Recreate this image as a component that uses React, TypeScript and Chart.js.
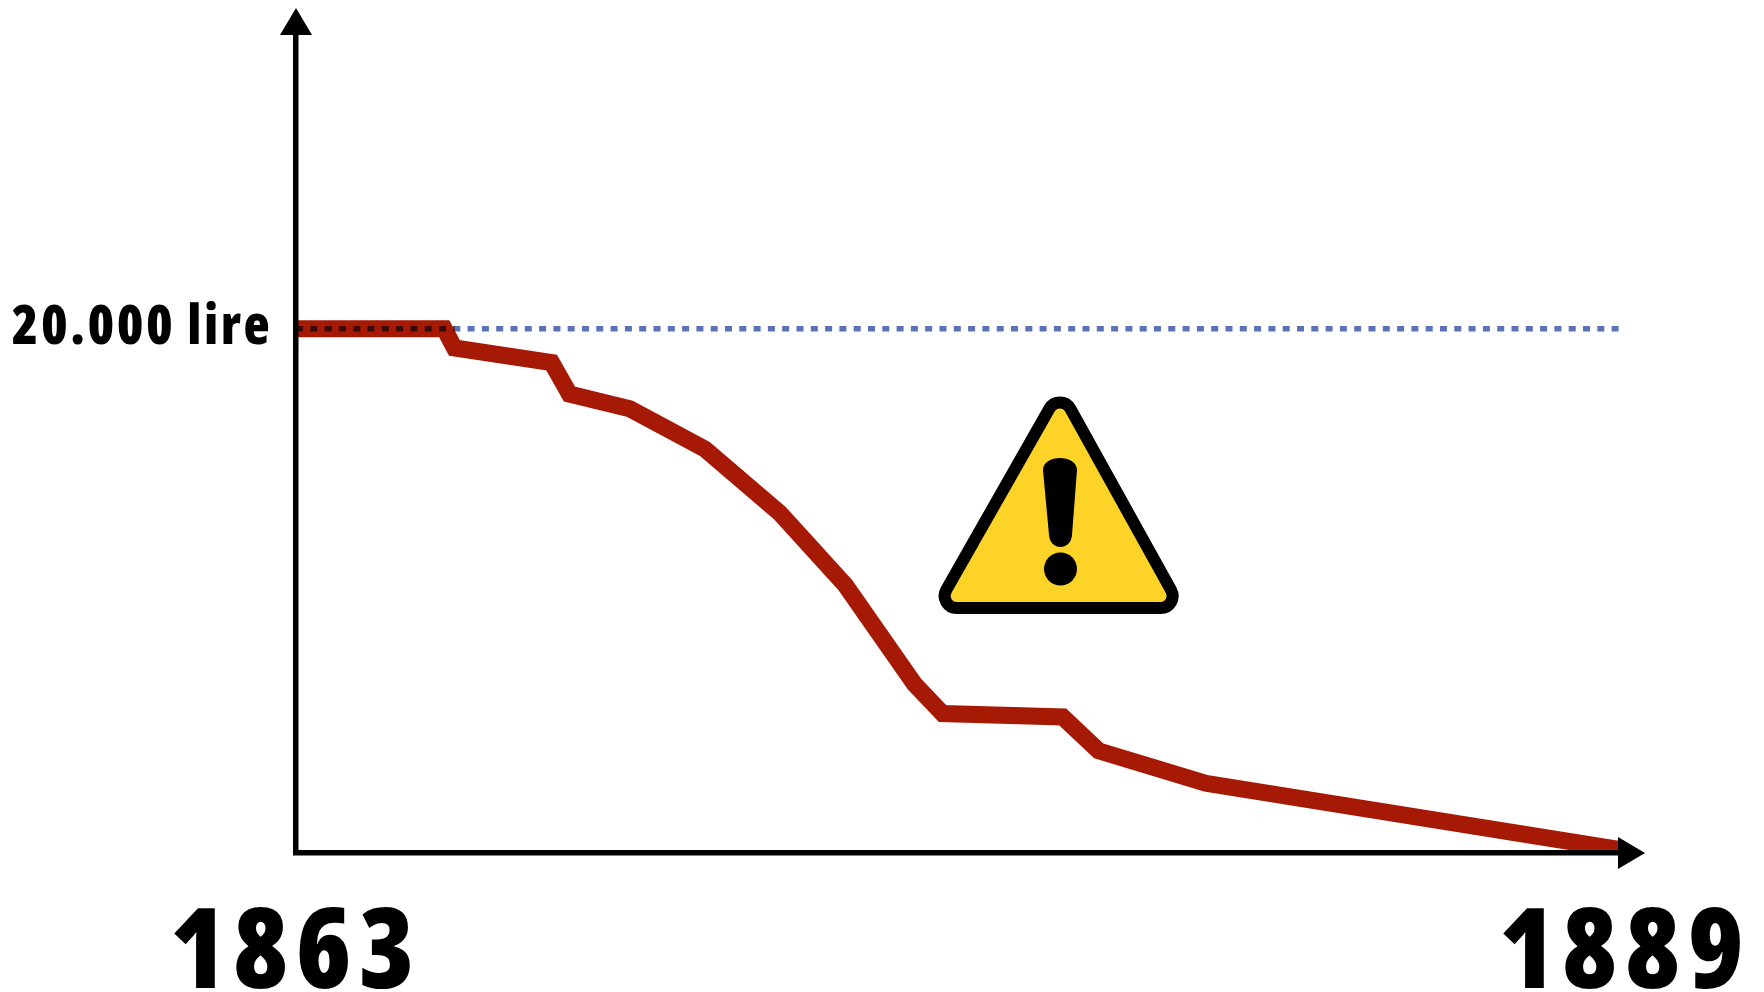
import React, { useEffect, useRef } from "react";
import { Chart, registerables } from "chart.js";

Chart.register(...registerables);

const years = [1863, 1865.9, 1866.1, 1868, 1868.35, 1869.53, 1871, 1872.47, 1873.75, 1875.1, 1875.65, 1878, 1878.7, 1880.8, 1889];
const values = [20000, 20000, 19270, 18710, 17510, 16950, 15410, 12960, 10210, 6440, 5320, 5190, 3900, 2660, 100];
const referenceYears = [1863, 1889];
const referenceValues = [20000, 20000];
const overlapYears = [1863, 1866.1];
const overlapValues = [20000, 20000];
const xTicks = [1863, 1889];
const yTicks = [20000];
const yTickLabel = "20.000 lire";

const FONT = "'Open Sans', sans-serif";

function triangle(ctx: CanvasRenderingContext2D, a: number[], b: number[], c: number[]) {
  ctx.beginPath();
  ctx.moveTo(a[0], a[1]);
  ctx.lineTo(b[0], b[1]);
  ctx.lineTo(c[0], c[1]);
  ctx.closePath();
  ctx.fill();
}

const decorations = {
  id: "decorations",
  beforeDraw(chart: any) {
    chart.ctx.letterSpacing = "2.5px";
  },
  afterDatasetsDraw(chart: any) {
    chart.ctx.letterSpacing = "7.5px";
  },
  afterDraw(chart: any) {
    const { ctx, chartArea: area } = chart;
    ctx.letterSpacing = "0px";
    const x0 = area.left;
    const y0 = area.bottom;
    ctx.save();
    ctx.fillStyle = "#000";
    triangle(ctx, [x0 - 16, 35], [x0 + 16, 35], [x0, 8]);
    triangle(ctx, [1618, y0 - 16], [1618, y0 + 16], [1645, y0]);

    const cx = 1060;
    const apex = [cx, 390];
    const left = [936, 608];
    const right = [1181, 608];
    const r = 12;
    ctx.beginPath();
    ctx.moveTo(cx, 608);
    ctx.arcTo(right[0], right[1], apex[0], apex[1], r);
    ctx.arcTo(apex[0], apex[1], left[0], left[1], r);
    ctx.arcTo(left[0], left[1], right[0], right[1], r);
    ctx.closePath();
    ctx.fillStyle = "#FED328";
    ctx.fill();
    ctx.lineWidth = 12;
    ctx.strokeStyle = "#000";
    ctx.stroke();

    ctx.fillStyle = "#000";
    ctx.beginPath();
    ctx.moveTo(1043, 470);
    ctx.bezierCurveTo(1043, 454, 1077, 454, 1077, 470);
    ctx.lineTo(1072, 535);
    ctx.bezierCurveTo(1071, 551, 1050, 551, 1049, 535);
    ctx.closePath();
    ctx.fill();
    ctx.beginPath();
    ctx.arc(1060.5, 569, 16.5, 0, Math.PI * 2);
    ctx.fill();
    ctx.restore();
  },
};

const noPadding = (s: any) => {
  s.paddingLeft = 0;
  s.paddingRight = 0;
  s.paddingTop = 0;
  s.paddingBottom = 0;
};

export default function App() {
  const ref = useRef<HTMLCanvasElement>(null);
  useEffect(() => {
    document.body.style.margin = "0";
    const chart = new Chart(ref.current!, {
      type: "line",
      data: {
        datasets: [
          {
            label: "Riferimento",
            data: referenceYears.map((x, i) => ({ x, y: referenceValues[i] })),
            borderColor: "#5B73B6",
            borderWidth: 5.5,
            borderDash: [7, 7.3],
            pointRadius: 0,
            order: 3,
          },
          {
            label: "Valore",
            data: years.map((x, i) => ({ x, y: values[i] })),
            borderColor: "#A61A05",
            borderWidth: 17,
            borderJoinStyle: "miter",
            pointRadius: 0,
            order: 2,
          },
          {
            label: "Sovrapposizione",
            data: overlapYears.map((x, i) => ({ x, y: overlapValues[i] })),
            borderColor: "#3A0A08",
            borderWidth: 5.5,
            borderDash: [7, 7.3],
            pointRadius: 0,
            order: 1,
          },
        ],
      },
      options: {
        responsive: false,
        animation: false,
        devicePixelRatio: 1,
        layout: { autoPadding: false, padding: { top: 30, right: 139, left: 0, bottom: 0 } },
        plugins: { legend: { display: false }, tooltip: { enabled: false } },
        scales: {
          x: {
            type: "linear",
            min: 1863,
            max: 1889,
            afterBuildTicks: (s: any) => { s.ticks = xTicks.map((value) => ({ value })); },
            afterFit: (s: any) => { s.height = 139; noPadding(s); },
            grid: { display: false },
            border: { display: true, color: "#000", width: 5.5, z: 1 },
            ticks: {
              z: 1,
              autoSkip: false,
              maxRotation: 0,
              padding: 28,
              color: "#000",
              font: { family: FONT, size: 112, weight: "800 condensed" },
              callback: (v: any) => String(v),
            },
          },
          y: {
            type: "linear",
            min: 0,
            max: 31400,
            afterBuildTicks: (s: any) => { s.ticks = yTicks.map((value) => ({ value })); },
            afterFit: (s: any) => { s.width = 296; noPadding(s); },
            grid: { display: false },
            border: { display: true, color: "#000", width: 5.5, z: 1 },
            ticks: {
              autoSkip: false,
              padding: 16,
              color: "#000",
              font: { family: FONT, size: 54, weight: "800 condensed" },
              callback: () => yTickLabel,
            },
          },
        },
      },
      plugins: [decorations],
    } as any);
    return () => chart.destroy();
  }, []);
  return (
    <div style={{ position: "absolute", left: 0, top: 0, width: 1764, height: 992, background: "#fff" }}>
      <canvas ref={ref} width={1764} height={992} style={{ display: "block", width: 1764, height: 992 }} />
    </div>
  );
}
